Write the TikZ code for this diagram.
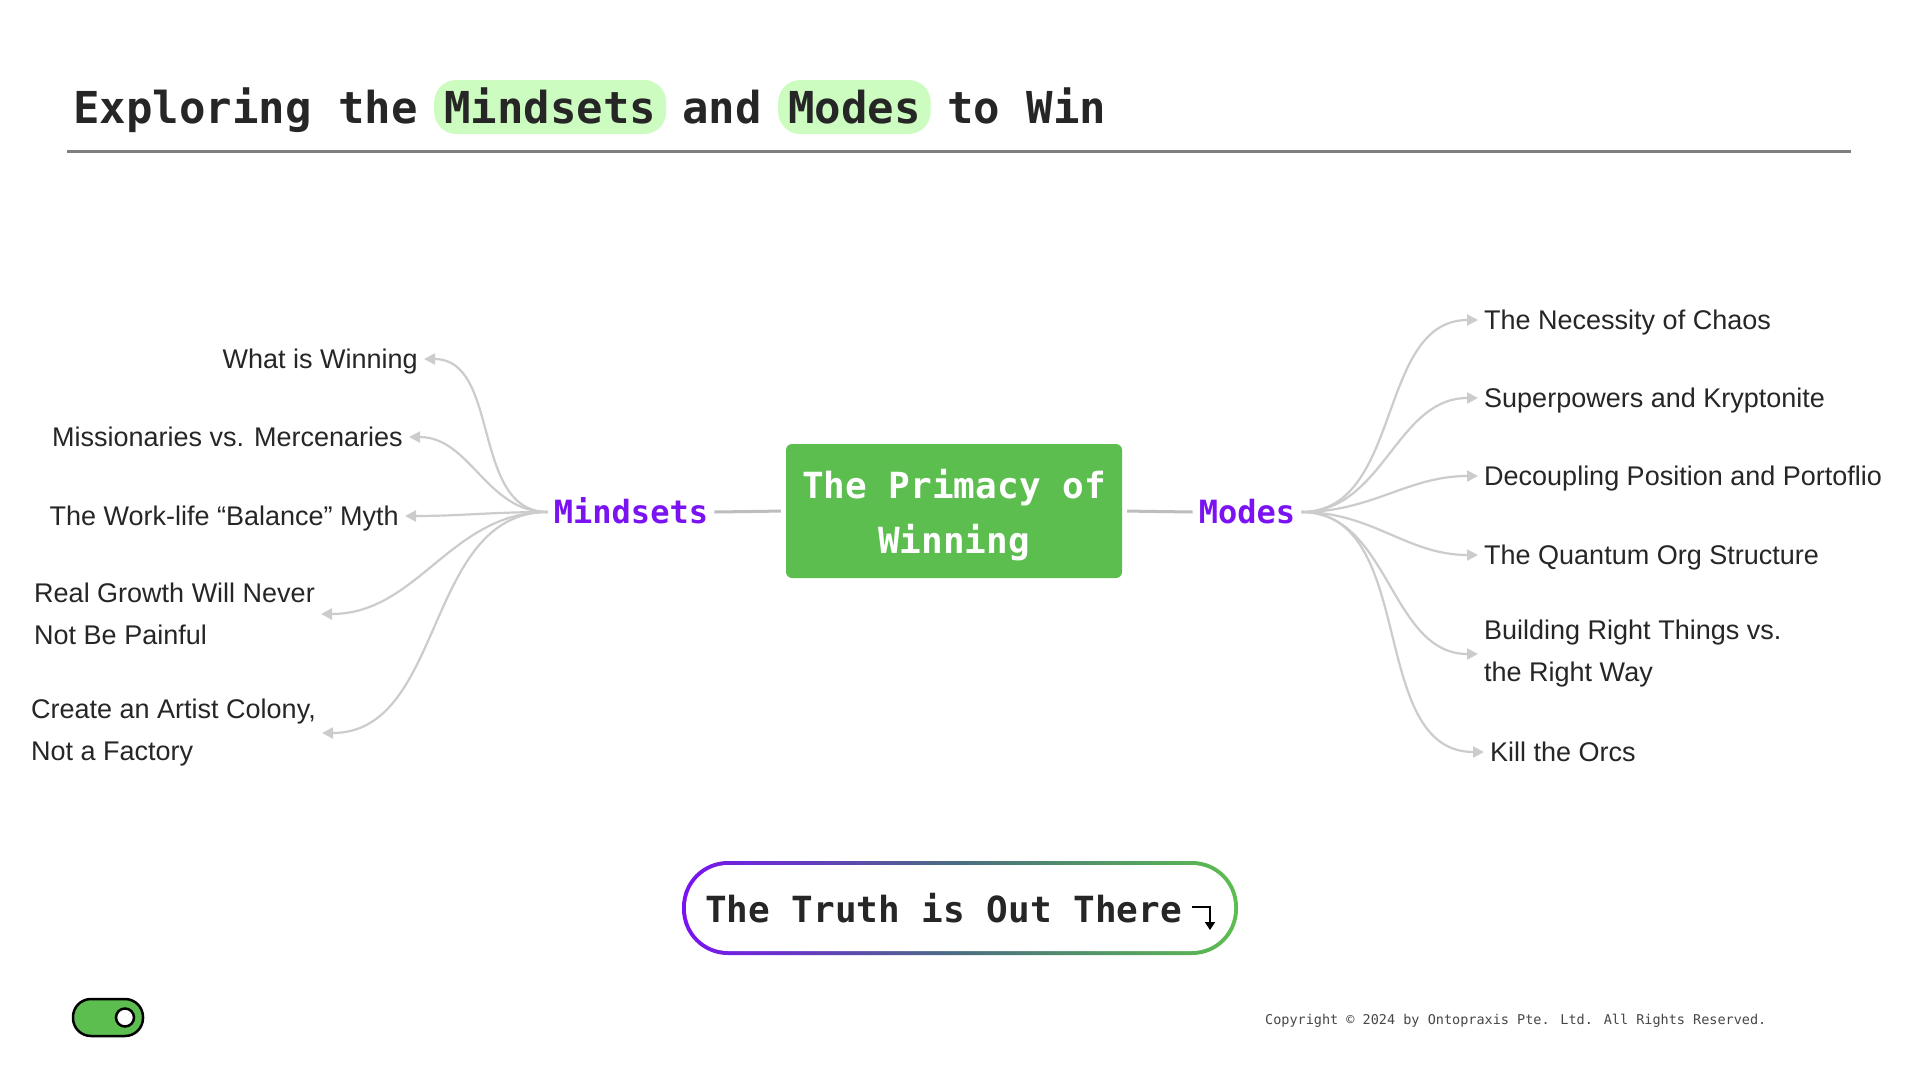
\documentclass[tikz,border=0pt]{standalone}
\usepackage{fontspec}
\setmainfont{Liberation Sans}
\newfontfamily\monofont{DejaVu Sans Mono}
\usetikzlibrary{arrows.meta,shapes}

\definecolor{inkgray}{HTML}{262626}
\definecolor{linegray}{HTML}{CCCCCC}
\definecolor{stemgray}{HTML}{BDBDBD}
\definecolor{rulegray}{HTML}{7F7F7F}
\definecolor{boxgreen}{HTML}{5CBE4F}
\definecolor{hlgreen}{HTML}{CCFCC0}
\definecolor{hubpurple}{HTML}{7A12F2}
\definecolor{pillmid}{HTML}{4A6E80}

\begin{document}
\begin{tikzpicture}[x=1pt,y=-1pt]
	\tikzstyle{arrow}=[draw, linegray, line width=2.2pt, -{Triangle[length=11pt,width=11pt]}]
	\tikzstyle{stem}=[draw, stemgray, line width=3pt]
	\tikzstyle{leaf}=[text=inkgray, font=\fontsize{27}{42}\selectfont, inner sep=6pt, text height=19.5pt, text depth=0pt]
	\tikzstyle{leaftwo}=[text=inkgray, font=\fontsize{27}{42}\selectfont, inner sep=6pt, align=left]
	\tikzstyle{hub}=[text=hubpurple, font=\monofont\bfseries\fontsize{32}{38}\selectfont, inner sep=6pt, text height=23pt, text depth=0pt]
	\tikzstyle{titletext}=[text=inkgray, font=\monofont\bfseries\fontsize{44}{50}\selectfont, inner sep=0pt, anchor=base west]
	\tikzstyle{hilite}=[fill=hlgreen, rounded corners=22pt, inner xsep=10pt, inner ysep=11pt, text height=32pt, text depth=0pt]
	\newcommand\YHub{512}
	\newcommand\XTipL{1478}

	% Page
	\useasboundingbox [fill=white] (0,0) rectangle (1920,1080);

	% Title
	\node [titletext] at (73,123) (ttl1) {Exploring the};
	\node [titletext, hilite] at (434,123) (ttl2) {Mindsets};
	\node [titletext] at (682,123) (ttl3) {and};
	\node [titletext, hilite] at (778,123) (ttl4) {Modes};
	\node [titletext] at (947,123) (ttl5) {to Win};
	\draw [rulegray, line width=3pt] (67,151) -- (1851,151);

	% Core and hubs
	\node [fill=boxgreen, rounded corners=6pt, minimum width=336pt, minimum height=134pt, align=center, text=white, font=\monofont\bfseries\fontsize{36}{55}\selectfont, text depth=0pt] at (954,511) (core) {The Primacy of\\Winning};
	\node [hub] at (631,\YHub) (mindsets) {Mindsets};
	\node [hub] at (1247,\YHub) (modes) {Modes};

	\path [stem, shorten >=5pt] (mindsets.east) -- (core.west);
	\path [stem, shorten <=5pt] (core.east) -- (modes.west);

	% Mindsets
	\node [leaf, anchor=east] at (424,359) (win) {What is Winning};
	\node [leaf, anchor=east] at (409,437) (missions) {Missionaries vs. Mercenaries};
	\node [leaf, anchor=east] at (405,516) (balance) {The Work-life ``Balance'' Myth};
	\node [leaftwo, anchor=east] at (321,614) (growth) {Real Growth Will Never\\Not Be Painful};
	\node [leaftwo, anchor=east] at (322,733) (colony) {Create an Artist Colony,\\Not a Factory};

	% Modes
	\node [leaf, anchor=west] at (\XTipL,320) (chaos) {The Necessity of Chaos};
	\node [leaf, anchor=west] at (\XTipL,398) (krypto) {Superpowers and Kryptonite};
	\node [leaf, anchor=west] at (\XTipL,476) (decouple) {Decoupling Position and Portoflio};
	\node [leaf, anchor=west] at (\XTipL,555) (quantum) {The Quantum Org Structure};
	\node [leaftwo, anchor=west] at (\XTipL,654) (building) {Building Right Things vs.\\the Right Way};
	\node [leaf, anchor=west] at (1484,752) (orcs) {Kill the Orcs};

	% Path Arrows
	\foreach \leafname in {win, missions, balance, growth, colony}
		\path [arrow] (mindsets.west) to [out=180, in=0] (\leafname.east);
	\foreach \leafname in {chaos, krypto, decouple, quantum, building, orcs}
		\path [arrow] (modes.east) to [out=0, in=180] (\leafname.west);

	% Button
	\shade [left color=hubpurple, right color=boxgreen, middle color=pillmid, rounded corners=46pt] (682,861) rectangle (1238,955);
	\fill [white, rounded corners=42pt] (686,865) rectangle (1234,951);
	\node [text=inkgray, font=\monofont\bfseries\fontsize{36}{40}\selectfont, anchor=base west, inner sep=0pt] at (705,922) (truth) {The Truth is Out There};
	\draw [black, line width=2.5pt, -{Triangle[length=8pt,width=10pt]}] (1192,907) -- (1210,907) -- (1210,930);

	% Footer
	\draw [fill=boxgreen, line width=2.5pt, rounded corners=18pt] (73,999) rectangle (143,1036);
	\draw [fill=white, line width=2.5pt] (125,1017.5) circle (9pt);
	\node [text=inkgray!85, font=\monofont\fontsize{13.5}{16}\selectfont, anchor=base west, inner sep=0pt] at (1265,1024) (copy) {Copyright © 2024 by Ontopraxis Pte. Ltd. All Rights Reserved.};
\end{tikzpicture}
\end{document}
